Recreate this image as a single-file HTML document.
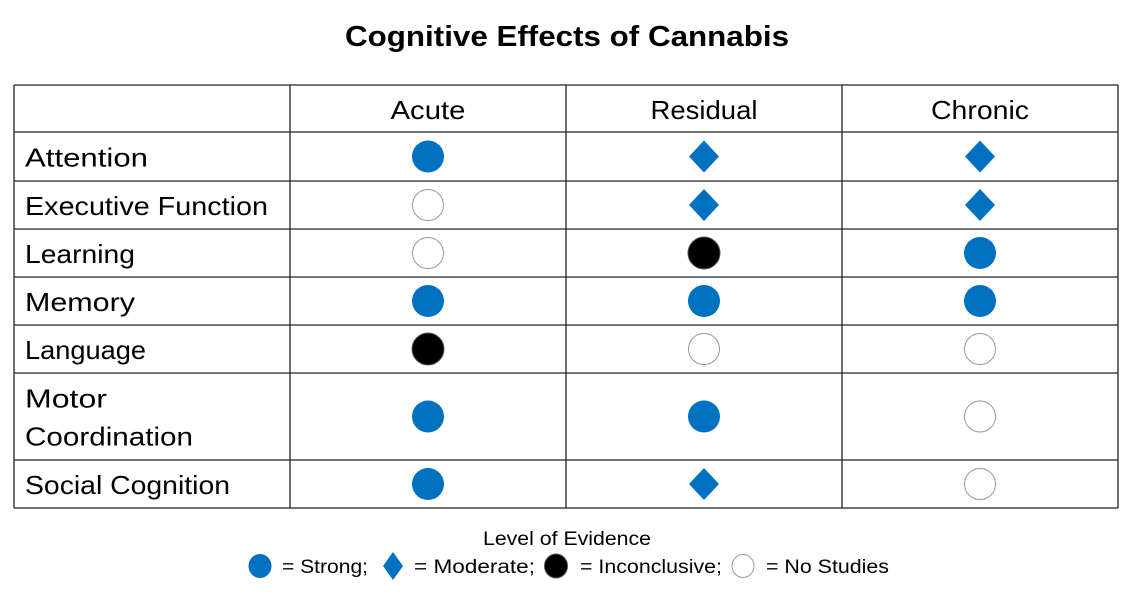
<!DOCTYPE html>
<html><head><meta charset="utf-8"><style>
html,body{margin:0;padding:0;background:#fff;}
svg{display:block;font-family:"Liberation Sans",sans-serif;}
</style></head><body>
<svg id="chart" width="1137" height="594" viewBox="0 0 1137 594">
<text x="567" y="46" text-anchor="middle" font-size="29" font-weight="bold" textLength="444" lengthAdjust="spacingAndGlyphs">Cognitive Effects of Cannabis</text>
<g id="grid"></g>
<g id="labels"></g>
<g id="marks"></g>
<g id="legend"></g>
</svg>
<script>
const columns = ["Acute", "Residual", "Chronic"];
const rowNames = ["Attention", "Executive Function", "Learning", "Memory", "Language", "Motor Coordination", "Social Cognition"];
const acute = ["S", "N", "N", "S", "I", "S", "S"];
const residual = ["M", "M", "I", "S", "N", "S", "M"];
const chronic = ["M", "M", "S", "S", "N", "N", "N"];
const series = [acute, residual, chronic];

const NS = "http://www.w3.org/2000/svg";
const BLUE = "#0070C0";
const colX = [14, 290, 566, 842, 1118];
const rowY = [85, 132, 181, 229, 277, 325, 373, 460, 508];
const labelW = {"Attention": 123, "Executive Function": 243, "Learning": 110, "Memory": 110, "Language": 121, "Motor": 82, "Coordination": 168, "Social Cognition": 205};
const headW = {"Acute": 75, "Residual": 107, "Chronic": 98};
function mk(tag, attrs, parent) {
  const e = document.createElementNS(NS, tag);
  for (const k in attrs) e.setAttribute(k, attrs[k]);
  parent.appendChild(e);
  return e;
}
const grid = document.getElementById("grid");
const labels = document.getElementById("labels");
const marks = document.getElementById("marks");
const legend = document.getElementById("legend");
rowY.forEach(y => {
  const l = mk("line", {x1: 14, x2: 1118, y1: y, y2: y, stroke: "#222", "stroke-width": 1.3}, grid);
  
  
});
colX.forEach(x => {
  const l = mk("line", {x1: x, x2: x, y1: 85, y2: 508, stroke: "#222", "stroke-width": 1.3}, grid);
  
  
});
function colCenter(i) { return (colX[i + 1] + colX[i + 2]) / 2; }
function rowCenter(r) { return (rowY[r + 1] + rowY[r + 2]) / 2; }
columns.forEach((c, i) => {
  const t = mk("text", {x: colCenter(i), y: 119, "text-anchor": "middle", "font-size": 26, textLength: headW[c], lengthAdjust: "spacingAndGlyphs"}, labels);
  t.textContent = c;
  
  
});
rowNames.forEach((n, r) => {
  const cy = rowCenter(r);
  const parts = n === "Motor Coordination" ? ["Motor", "Coordination"] : [n];
  parts.forEach((p, k) => {
    const y = parts.length === 1 ? cy + 10 : cy - 9 + k * 38;
    const t = mk("text", {x: 25, y: y, "font-size": 26, textLength: labelW[p], lengthAdjust: "spacingAndGlyphs"}, labels);
    t.textContent = p;
    
    
  });
});
function symbol(type, cx, cy, parent, rx, ry) {
  let e;
  if (type === "M") {
    e = mk("polygon", {points: `${cx},${cy - ry} ${cx + rx},${cy} ${cx},${cy + ry} ${cx - rx},${cy}`, fill: BLUE}, parent);
  } else if (type === "S") {
    e = mk("ellipse", {cx: cx, cy: cy, rx: rx, ry: ry, fill: BLUE}, parent);
  } else if (type === "I") {
    e = mk("ellipse", {cx: cx, cy: cy, rx: rx, ry: ry, fill: "#000", stroke: "#555", "stroke-width": 1}, parent);
  } else {
    e = mk("ellipse", {cx: cx, cy: cy, rx: rx - 0.5, ry: ry - 0.5, fill: "#fff", stroke: "#999", "stroke-width": 1}, parent);
  }
  return e;
}
series.forEach((vals, i) => {
  vals.forEach((v, r) => {
    const isD = v === "M";
    const e = symbol(v, colCenter(i), rowCenter(r), marks, isD ? 15 : 16, 16);
    
    
  });
});
const lt = mk("text", {x: 567, y: 545, "text-anchor": "middle", "font-size": 19, textLength: 168, lengthAdjust: "spacingAndGlyphs"}, legend);
lt.textContent = "Level of Evidence";


const legTypes = ["S", "M", "I", "N"];
const legText = ["= Strong;", "= Moderate;", "= Inconclusive;", "= No Studies"];
const legSymX = [260, 393, 556, 743];
const legTextX = [282, 414, 580, 766];
const legTextW = [86, 121, 142, 123];
legTypes.forEach((t, k) => {
  const s = symbol(t, legSymX[k], 566, legend, t === "M" ? 10 : 11.5, t === "M" ? 14 : 12);
  
  
  const tx = mk("text", {x: legTextX[k], y: 573, "font-size": 19, textLength: legTextW[k], lengthAdjust: "spacingAndGlyphs"}, legend);
  tx.textContent = legText[k];
  
  
});
</script>
</body></html>
